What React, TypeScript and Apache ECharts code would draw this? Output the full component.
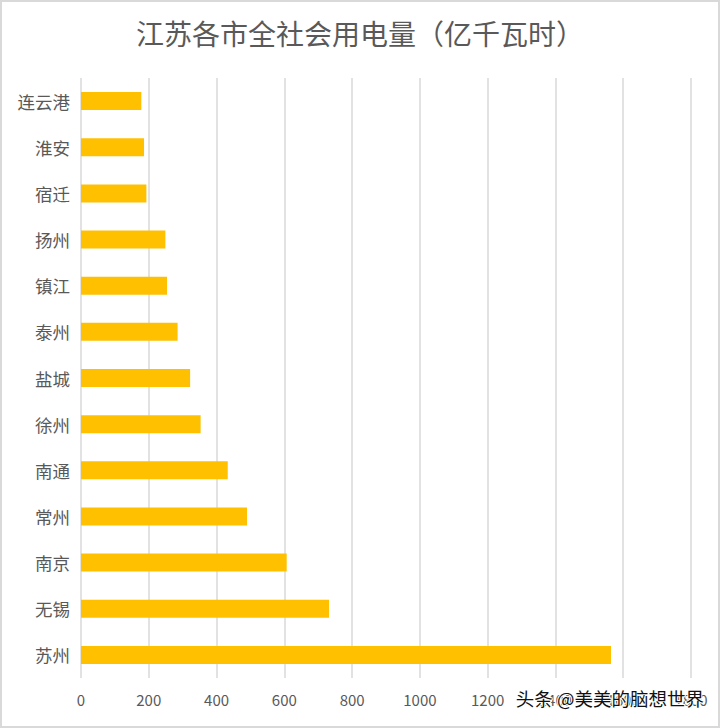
import React, { useEffect, useRef } from "react";
import * as echarts from "echarts";

const titleText = "江苏各市全社会用电量（亿千瓦时）";
const cities = ["苏州", "无锡", "南京", "常州", "南通", "徐州", "盐城", "泰州", "镇江", "扬州", "宿迁", "淮安", "连云港"];
const usage = [1564, 732, 607, 490, 433, 353, 322, 285, 254, 249, 193, 186, 178];
const axisMax = 1800;
const axisStep = 200;
const watermark = "头条 @美美的脑想世界";

export default function App() {
  const ref = useRef<HTMLDivElement>(null);
  useEffect(() => {
    document.body.style.margin = "0";
    const chart = echarts.init(ref.current!, null, { renderer: "svg" });
    const font = "'Noto Sans CJK SC', 'Noto Sans', sans-serif";
    chart.setOption({
      animation: false,
      backgroundColor: "#ffffff",
      title: {
        text: titleText,
        left: "center",
        top: 14,
        textStyle: { fontFamily: font, fontSize: 28, fontWeight: "normal", color: "#595959" },
      },
      grid: { left: 81, right: 29, top: 78, bottom: 50, containLabel: false },
      xAxis: {
        type: "value",
        min: 0,
        max: axisMax,
        interval: axisStep,
        axisLine: { show: false },
        axisTick: { show: false },
        axisLabel: {
          color: "#595959",
          fontSize: 15,
          fontFamily: font,
          margin: 14,
          formatter: (v: number) => String(v),
        },
        splitLine: { show: true, lineStyle: { color: "#d9d9d9", width: 1.5 } },
      },
      yAxis: {
        type: "category",
        data: cities,
        axisLine: { show: false },
        axisTick: { show: false },
        axisLabel: { color: "#595959", fontSize: 17.5, fontFamily: font, margin: 11 },
      },
      series: [
        {
          type: "bar",
          data: usage,
          barWidth: 18,
          itemStyle: { color: "#FFC000" },
        },
      ],
      graphic: [
        {
          type: "rect",
          shape: { x: 1, y: 1, width: 718, height: 726 },
          style: { fill: "none", stroke: "#d9d9d9", lineWidth: 2 },
          silent: true,
        },
        {
          type: "text",
          right: 15,
          top: 688,
          style: {
            text: watermark,
            fontSize: 18.5,
            fontFamily: font,
            fill: "#111111",
            stroke: "#ffffff",
            lineWidth: 2,
          },
          z: 100,
        },
      ],
    });
    return () => chart.dispose();
  }, []);
  return <div ref={ref} style={{ position: "absolute", left: 0, top: 0, width: 720, height: 728 }} />;
}
